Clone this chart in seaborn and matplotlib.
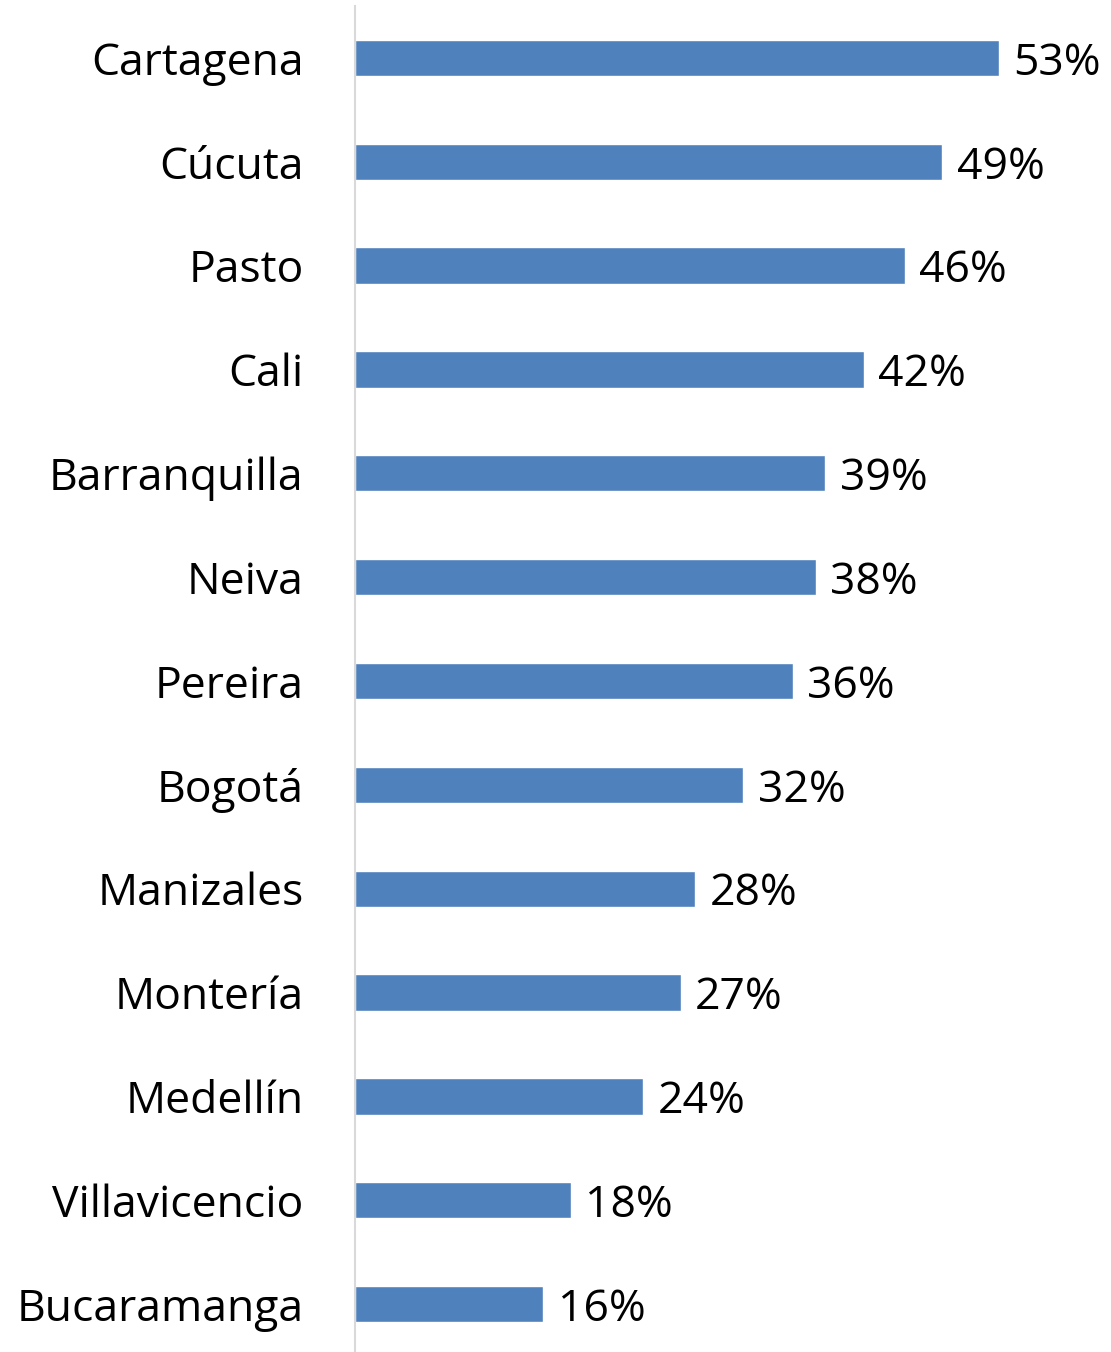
import matplotlib
matplotlib.use('Agg')
import matplotlib.pyplot as plt
import seaborn as sns
import pandas as pd

cities = ['Cartagena', 'Cúcuta', 'Pasto', 'Cali', 'Barranquilla', 'Neiva', 'Pereira',
          'Bogotá', 'Manizales', 'Montería', 'Medellín', 'Villavicencio', 'Bucaramanga']
# bar lengths (labels show the rounded value)
values = [53.4, 48.7, 45.6, 42.2, 39.0, 38.2, 36.3, 32.2, 28.2, 27.0, 23.9, 17.9, 15.6]

df = pd.DataFrame({'ciudad': cities, 'valor': values})

sns.set_style('white')
plt.rcParams['font.family'] = ['Open Sans', 'DejaVu Sans']
plt.rcParams['text.color'] = 'black'
plt.rcParams['ytick.color'] = 'black'

fig = plt.figure(figsize=(11.11, 13.52), dpi=100)
ax = fig.add_axes([355 / 1111, -4 / 1352, 756 / 1111, 1350 / 1352])

sns.barplot(data=df, x='valor', y='ciudad', color='#4F81BD', saturation=1,
            width=0.35, ax=ax)

ax.set_xlim(0, 62.7)
ax.set_ylim(12.5, -0.5)
ax.set_xlabel('')
ax.set_ylabel('')
ax.set_xticks([])
for s in ['top', 'right', 'bottom']:
    ax.spines[s].set_visible(False)
ax.spines['left'].set_color('#D9D9D9')
ax.spines['left'].set_linewidth(1.5)
ax.tick_params(axis='y', length=0, pad=37, labelsize=32, labelcolor='black')

for i, v in enumerate(values):
    ax.text(v + 1.2, i, f'{round(v)}%', va='center_baseline', ha='left', fontsize=32, color='black')

fig.savefig('out.png', dpi=100)
